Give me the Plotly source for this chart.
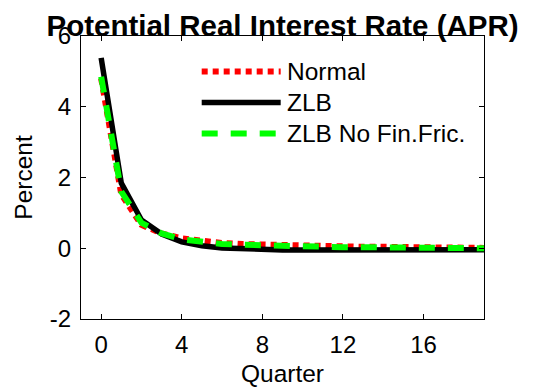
import plotly.graph_objects as go

# -------------------------------
# DATA
# -------------------------------
quarters = list(range(20))
normal = [4.80, 1.52, 0.66, 0.42, 0.28, 0.20, 0.15, 0.12, 0.10, 0.08,
          0.07, 0.06, 0.05, 0.04, 0.04, 0.03, 0.03, 0.02, 0.02, 0.01]
zlb = [5.38, 1.84, 0.80, 0.40, 0.18, 0.07, 0.01, -0.02, -0.04, -0.05,
       -0.05, -0.05, -0.05, -0.05, -0.05, -0.05, -0.05, -0.04, -0.04, -0.04]
zlb_nofin = [4.85, 1.60, 0.72, 0.42, 0.25, 0.17, 0.12, 0.10, 0.08, 0.06,
             0.05, 0.04, 0.03, 0.03, 0.02, 0.02, 0.01, 0.01, 0.00, 0.00]

x_ticks = [0, 4, 8, 12, 16]
y_ticks = [-2, 0, 2, 4, 6]
y_ticklabels = ["-2", "0", "2", "4", "6"]

names = ["Normal", "ZLB", "ZLB No Fin.Fric."]
colors = ["#ff0000", "#000000", "#00ff00"]
widths = [6, 5.5, 6]
dashes = ["6px,5px", "solid", "16px,13px"]
series = [normal, zlb, zlb_nofin]

font = "Arial, Liberation Sans, sans-serif"

# -------------------------------
# PLOT
# -------------------------------
fig = go.Figure()

for name, y, c, w, d in zip(names, series, colors, widths, dashes):
    fig.add_trace(go.Scatter(
        x=quarters, y=y, mode="lines", name=name,
        line=dict(color=c, width=w, dash=d),
        showlegend=False
    ))

# MATLAB-style legend: long line samples + labels
rows = [0.8746, 0.765, 0.6555]
for name, c, w, d, yy in zip(names, colors, widths, dashes, rows):
    fig.add_shape(type="line", xref="paper", yref="paper",
                  x0=0.2995, x1=0.4955, y0=yy, y1=yy,
                  line=dict(color=c, width=w, dash=d))
    fig.add_annotation(x=0.505, y=yy, xref="paper", yref="paper",
                       text=name, showarrow=False, xanchor="left",
                       yanchor="middle", font=dict(size=24.5, color="black"))

axis_style = dict(
    showgrid=False, zeroline=False, showline=True, linecolor="black",
    linewidth=1, mirror="ticks", ticks="inside", ticklen=5,
    tickcolor="black", tickfont=dict(size=24, color="black"),
    automargin=False
)

fig.update_xaxes(range=[-1, 19], tickvals=x_ticks, ticklabelstandoff=4,
                 title=dict(text="Quarter", font=dict(size=24.5), standoff=10),
                 **axis_style)
fig.update_yaxes(range=[-2, 6], tickvals=y_ticks, ticktext=y_ticklabels,
                 ticklabelstandoff=4,
                 title=dict(text="Percent", font=dict(size=24.5), standoff=10),
                 **axis_style)

# the page body adds an 8px margin, so the figure starts at (8, 8)
fig.update_layout(
    width=529, height=379,
    margin=dict(l=73, r=53, t=28, b=68),
    paper_bgcolor="white", plot_bgcolor="white",
    font=dict(family=font, color="black"),
    title=dict(text="<b>Potential Real Interest Rate (APR)</b>",
               x=0.519, xref="container", xanchor="center",
               y=0.953, yref="container", yanchor="middle",
               font=dict(size=29.5, color="black")),
)

fig.write_html("out.html")
